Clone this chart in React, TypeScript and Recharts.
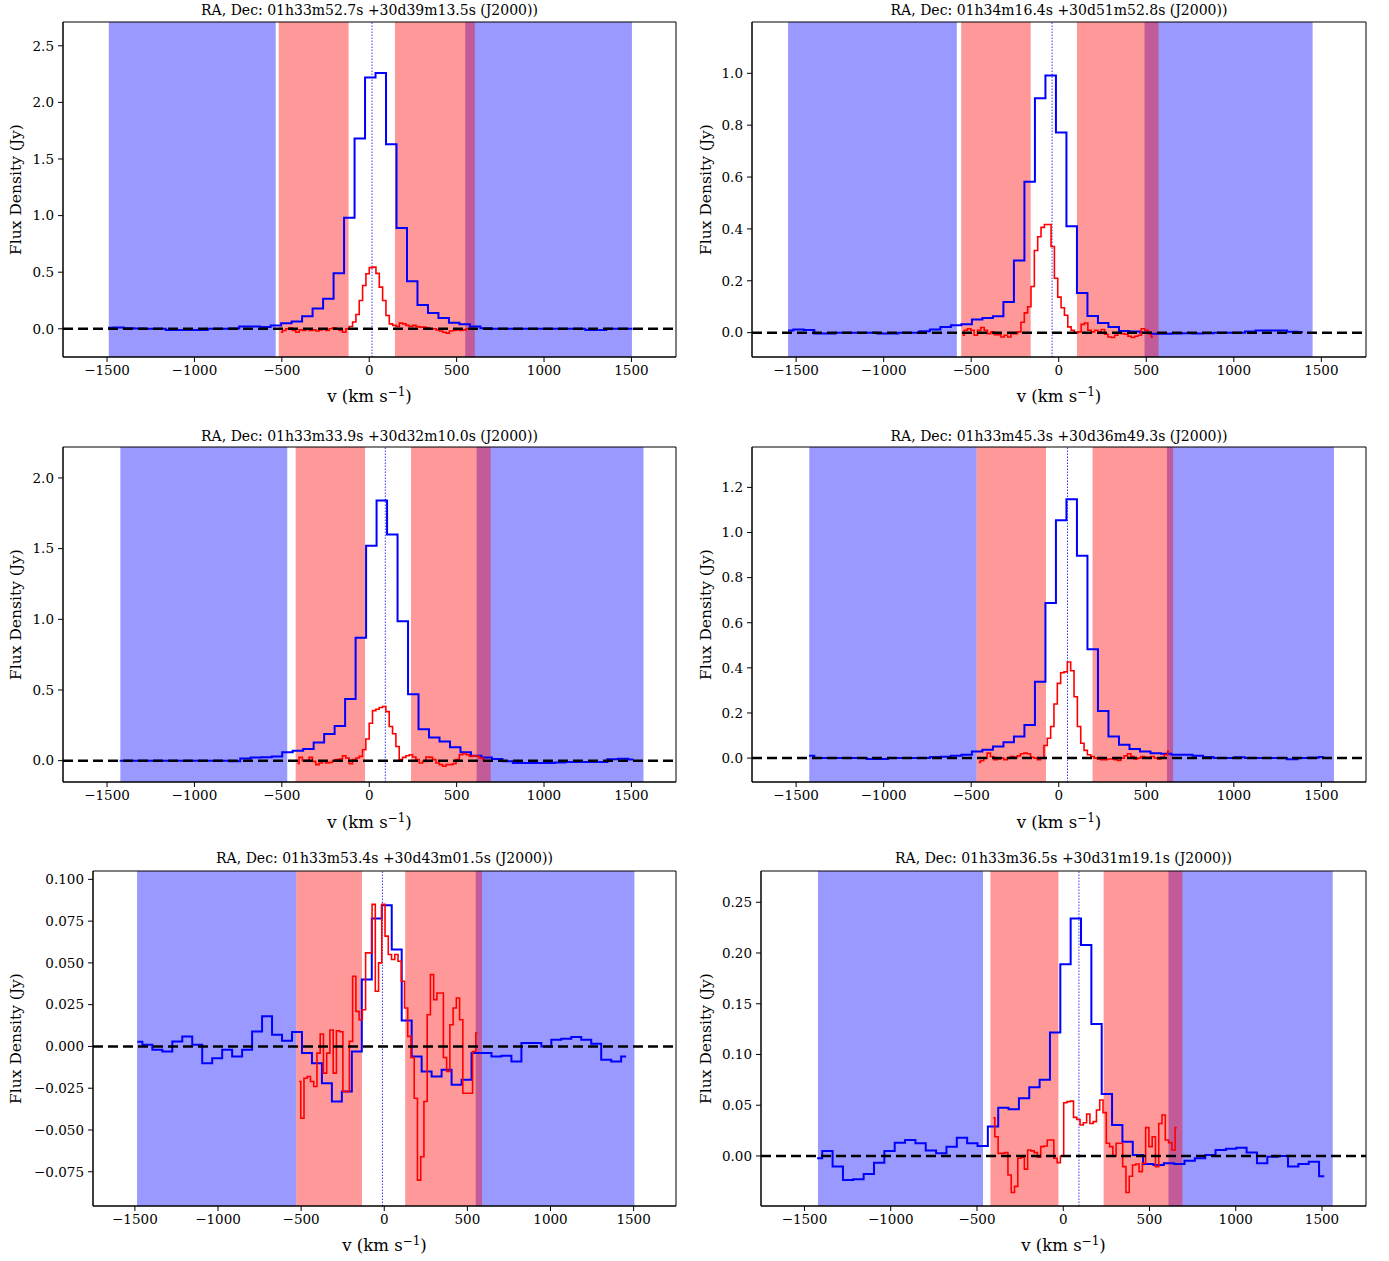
import React from 'react';
import { ComposedChart, Line, XAxis, YAxis, ReferenceArea, ReferenceLine } from 'recharts';

const FONT = '"DejaVu Serif", "Liberation Serif", serif';

// shared velocity axis (km/s)
const vDomain: [number, number] = [-1752, 1755];
const vTicks = [-1500, -1000, -500, 0, 500, 1000, 1500];
const blueStep = 60;

// ---- panel 1: 01h33m52.7s +30d39m13.5s
const p1Title = 'RA, Dec: 01h33m52.7s +30d39m13.5s (J2000))';
const p1BlueStart = -1494;
const p1Blue = [
  0.01, 0.012, 0.005, 0.003, 0, 0, -0.01, -0.01, -0.01, -0.01, 0, 0, 0.003, 0.02, 0.02, 0.015, 0.03,
  0.05, 0.065, 0.11, 0.18, 0.265, 0.49, 0.98, 1.68, 2.22, 2.26, 1.63, 0.89, 0.42, 0.21, 0.14, 0.095,
  0.053, 0.04, 0.02, 0.005, 0, 0, 0, 0, 0, 0, 0, 0, 0, -0.01, -0.01, 0, 0, 0,
];
const p1RedStart = -506;
const p1RedStep = 19.1;
const p1Red = [
  -0.03, -0.015, 0, 0.009, -0.015, -0.03, -0.009, -0.015, 0, -0.015, -0.009, -0.02, -0.009, 0, -0.015,
  0, 0.009, 0, -0.015, -0.03, 0, 0.02, 0.06, 0.127, 0.25, 0.383, 0.486, 0.54, 0.545, 0.49, 0.368, 0.25,
  0.118, 0.044, 0.03, 0.02, 0.05, 0.044, 0.03, 0.02, 0.03, 0.02, 0.015, 0.015, 0.009, 0, 0, -0.009,
  -0.02, -0.03, -0.038, -0.02, -0.015, -0.009, -0.015, -0.009, 0,
];
const p1BlueBands: [number, number][] = [[-1490, -535], [549, 1503]];
const p1RedBands: [number, number][] = [[-518, -118], [147, 604]];
const p1Centre = 16;
const p1YDomain: [number, number] = [-0.249, 2.71];
const p1YTicks = [0, 0.5, 1, 1.5, 2, 2.5];

// ---- panel 2: 01h34m16.4s +30d51m52.8s
const p2Title = 'RA, Dec: 01h34m16.4s +30d51m52.8s (J2000))';
const p2BlueStart = -1546;
const p2Blue = [
  0.008, 0.012, 0.01, -0.003, -0.003, 0, 0, 0, 0, -0.003, -0.003, 0, 0, 0.005, 0.012, 0.022, 0.028,
  0.032, 0.051, 0.056, 0.063, 0.118, 0.278, 0.582, 0.904, 0.992, 0.772, 0.41, 0.153, 0.064, 0.037,
  0.022, 0.006, 0.004, 0, -0.004, -0.004, -0.003, -0.002, -0.003, -0.002, 0, 0, 0, 0.004, 0.008, 0.008,
  0.008, 0.003, 0.002,
];
const p2RedStart = -550;
const p2RedStep = 19.1;
const p2Red = [
  -0.01, 0.009, 0.015, 0.009, -0.01, 0.009, 0.02, 0.009, -0.004, 0.003, -0.008, -0.008, -0.017, -0.01,
  -0.017, -0.004, -0.004, 0.003, 0.04, 0.076, 0.1, 0.178, 0.317, 0.37, 0.406, 0.417, 0.417, 0.332, 0.21,
  0.137, 0.096, 0.067, 0.022, 0.009, -0.001, 0.003, 0.032, 0.037, 0.009, 0.003, 0.009, 0.003, 0.012,
  -0.006, -0.017, -0.019, -0.01, -0.001, -0.004, -0.006, -0.014, -0.019, -0.014, -0.01, 0.015, 0.009,
  -0.004, -0.017,
];
const p2BlueBands: [number, number][] = [[-1546, -582], [490, 1450]];
const p2RedBands: [number, number][] = [[-557, -160], [104, 570]];
const p2Centre = -38;
const p2YDomain: [number, number] = [-0.094, 1.198];
const p2YTicks = [0, 0.2, 0.4, 0.6, 0.8, 1.0];

// ---- panel 3: 01h33m33.9s +30d32m10.0s
const p3Title = 'RA, Dec: 01h33m33.9s +30d32m10.0s (J2000))';
const p3BlueStart = -1428;
const p3Blue = [
  0, 0, 0, 0, 0, 0, 0, 0, 0, 0, 0, -0.005, 0.015, 0.022, 0.024, 0.03, 0.059, 0.07, 0.082, 0.129, 0.188,
  0.246, 0.437, 0.869, 1.52, 1.84, 1.6, 0.986, 0.47, 0.223, 0.164, 0.136, 0.094, 0.059, 0.035, 0.023,
  0.012, -0.005, -0.016, -0.016, -0.016, -0.016, -0.013, -0.01, -0.01, -0.01, -0.01, 0.01, 0.014, 0.008,
];
const p3RedStart = -411;
const p3RedStep = 19.1;
const p3Red = [
  -0.02, 0.023, 0, 0, 0.023, -0.005, -0.028, -0.017, -0.005, -0.017, -0.012, 0, 0.007, 0.012, 0.035,
  0.019, -0.021, 0.007, 0.019, 0.03, 0.077, 0.153, 0.265, 0.354, 0.364, 0.376, 0.383, 0.347, 0.242,
  0.19, 0.1, 0.007, 0.023, 0.035, 0.042, 0.026, 0.007, -0.017, -0.005, 0.026, 0.023, 0.007, -0.017,
  -0.028, -0.04, -0.028, -0.028, -0.021, 0.007, 0.042, 0.05, 0.042, 0.03, 0.035, 0.03, 0.019, 0.007,
];
const p3BlueBands: [number, number][] = [[-1424, -469], [614, 1569]];
const p3RedBands: [number, number][] = [[-421, -24], [239, 695]];
const p3Centre = 92;
const p3YDomain: [number, number] = [-0.151, 2.219];
const p3YTicks = [0, 0.5, 1, 1.5, 2];

// ---- panel 4: 01h33m45.3s +30d36m49.3s
const p4Title = 'RA, Dec: 01h33m45.3s +30d36m49.3s (J2000))';
const p4BlueStart = -1426;
const p4Blue = [
  0.01, 0, 0, 0, 0, 0, -0.004, -0.004, 0, 0, 0, 0, 0.005, 0.006, 0.01, 0.015, 0.029, 0.037, 0.051, 0.07,
  0.096, 0.147, 0.338, 0.687, 1.054, 1.147, 0.897, 0.482, 0.209, 0.096, 0.059, 0.04, 0.029, 0.022, 0.019,
  0.015, 0.015, 0.01, 0.005, 0, 0, 0.004, 0, 0, 0, 0, -0.005, 0, 0.002, 0.005,
];
const p4RedStart = -457;
const p4RedStep = 19.1;
const p4Red = [
  -0.019, -0.012, 0, 0.022, 0.007, -0.007, -0.004, 0, -0.007, 0, 0.007, 0.003, 0.01, 0.019, 0.022, 0.019,
  0.004, 0, -0.007, 0, 0.056, 0.088, 0.14, 0.24, 0.331, 0.378, 0.382, 0.426, 0.387, 0.272, 0.14, 0.066,
  0.034, 0.015, 0.007, 0, -0.004, -0.007, -0.007, -0.004, -0.004, -0.007, -0.01, 0, 0.01, 0.019, 0.007,
  -0.004, 0, 0.007, 0.004, 0.003, 0.007, 0, -0.004, 0.004, 0.015, 0.03,
];
const p4BlueBands: [number, number][] = [[-1425, -469], [618, 1572]];
const p4RedBands: [number, number][] = [[-469, -73], [193, 653]];
const p4Centre = 50;
const p4YDomain: [number, number] = [-0.106, 1.379];
const p4YTicks = [0, 0.2, 0.4, 0.6, 0.8, 1.0, 1.2];

// ---- panel 5: 01h33m53.4s +30d43m01.5s
const p5Title = 'RA, Dec: 01h33m53.4s +30d43m01.5s (J2000))';
const p5BlueStart = -1485;
const p5Blue = [
  0.0028, 0.001, -0.002, -0.003, 0.003, 0.006, 0.001, -0.01, -0.007, -0.002, -0.006, -0.002, 0.009,
  0.018, 0.007, 0.0034, 0.0086, -0.004, -0.01, -0.022, -0.033, -0.027, -0.003, 0.04, 0.0765, 0.0845,
  0.058, 0.0155, -0.006, -0.015, -0.018, -0.014, -0.023, -0.02, -0.004, -0.004, -0.006, -0.0055, -0.009,
  0.002, 0.002, 0, 0.004, 0.0046, 0.0056, 0.004, 0.0016, -0.008, -0.009, -0.006,
];
const p5RedStart = -512;
const p5RedStep = 19.5;
const p5Red = [
  -0.021, -0.043, -0.019, -0.018, -0.021, -0.024, -0.004, 0.0074, -0.016, -0.004, 0.0098, -0.016, 0.0094,
  0.0088, -0.027, -0.027, 0.003, 0.042, 0.021, 0.016, 0.022, 0.056, 0.056, 0.085, 0.033, 0.05, 0.085,
  0.066, 0.055, 0.052, 0.055, 0.051, 0.039, 0.023, 0.006, -0.0066, -0.031, -0.08, -0.066, -0.033, 0.019,
  0.043, 0.028, 0.032, 0.032, -0.0066, -0.015, 0.013, 0.023, 0.029, 0.016, -0.028, -0.028, -0.028,
  -0.003, 0.008,
];
const p5BlueBands: [number, number][] = [[-1487, -529], [550, 1505]];
const p5RedBands: [number, number][] = [[-529, -134], [126, 588]];
const p5Centre = -11;
const p5YDomain: [number, number] = [-0.0955, 0.105];
const p5YTicks = [-0.075, -0.05, -0.025, 0, 0.025, 0.05, 0.075, 0.1];

// ---- panel 6: 01h33m36.5s +30d31m19.1s
const p6Title = 'RA, Dec: 01h33m36.5s +30d31m19.1s (J2000))';
const p6BlueStart = -1427;
const p6Blue = [
  -0.0023, 0.005, -0.0105, -0.0237, -0.023, -0.0177, -0.0066, 0.005, 0.013, 0.0158, 0.0125, 0.0053,
  0.0026, 0.0092, 0.018, 0.0125, 0.0099, 0.029, 0.0476, 0.046, 0.0568, 0.0677, 0.075, 0.1216, 0.189,
  0.234, 0.208, 0.13, 0.061, 0.0306, 0.014, 0.001, -0.008, -0.009, -0.0072, -0.008, -0.0046, -0.0023,
  0.001, 0.006, 0.007, 0.0082, 0.0033, -0.0072, -0.0007, 0, -0.0105, -0.008, -0.0056, -0.02,
];
const p6RedStart = -406;
const p6RedStep = 19;
const p6Red = [
  0.0377, 0.019, 0.0026, 0.0026, 0.0033, -0.0187, -0.036, -0.03, -0.0023, -0.0013, -0.013, 0.0059, 0.005,
  0.0033, -0.0013, 0.0092, 0.0098, 0.0157, 0.0157, -0.0023, -0.0066, 0, 0.0525, 0.0535, 0.054, 0.038,
  0.036, 0.0305, 0.0328, 0.0413, 0.032, 0.0338, 0.0453, 0.0551, 0.0427, 0.0125, 0.0092, 0, 0.0125,
  0.0125, -0.0105, -0.036, -0.02, -0.0089, -0.0079, -0.0154, -0.0072, 0.0279, 0.0092, 0.019, -0.0105,
  0.032, 0.0404, 0.0157, 0.0131, 0.0059, 0.0279,
];
const p6BlueBands: [number, number][] = [[-1422, -465], [610, 1562]];
const p6RedBands: [number, number][] = [[-422, -28], [234, 691]];
const p6Centre = 91;
const p6YDomain: [number, number] = [-0.0493, 0.2808];
const p6YTicks = [0, 0.05, 0.1, 0.15, 0.2, 0.25];

type Box = { x0: number; x1: number; y0: number; y1: number };
type Cell = { left: number; top: number; width: number; height: number };

interface PanelProps {
  title: string;
  blue: { v: number; f: number }[];
  red: { v: number; f: number }[];
  blueBands: [number, number][];
  redBands: [number, number][];
  centre: number;
  yDomain: [number, number];
  yTicks: number[];
  yDigits: number;
  cell: Cell;
  plot: Box;
  yLabelX: number;
  titleY: number;
  xLabelY: number;
}

const channels = (start: number, step: number, flux: number[]) =>
  flux.map((f, i) => ({ v: start + i * step, f }));

const minus = (s: string) => s.replace('-', '\u2212');

const X_AXIS_H = 40;

const SpectrumPanel = (p: PanelProps) => {
  const { cell, plot } = p;
  const margin = {
    top: plot.y0 - cell.top,
    right: cell.left + cell.width - plot.x1,
    bottom: cell.top + cell.height - plot.y1 - X_AXIS_H,
    left: 0,
  };
  const midY = (plot.y0 + plot.y1) / 2 - cell.top;
  const midX = (plot.x0 + plot.x1) / 2 - cell.left;
  const tickStyle = { fill: '#000', fontSize: 13.5, fontFamily: FONT };

  return (
    <div style={{ position: 'absolute', left: cell.left, top: cell.top, width: cell.width, height: cell.height }}>
      <div
        style={{
          position: 'absolute',
          left: plot.x0 - cell.left - 40,
          width: plot.x1 - plot.x0 + 80,
          top: p.titleY - cell.top - 8,
          lineHeight: '16px',
          textAlign: 'center',
          fontFamily: FONT,
          fontSize: 14,
          color: '#000',
          whiteSpace: 'nowrap',
        }}
      >
        {p.title}
      </div>
      <ComposedChart width={cell.width} height={cell.height} margin={margin}>
        <XAxis
          type="number"
          dataKey="v"
          domain={vDomain}
          ticks={vTicks}
          allowDataOverflow
          height={X_AXIS_H}
          stroke="#000"
          tickSize={5}
          tickMargin={3}
          tick={tickStyle}
          tickFormatter={(v: number) => minus(String(v))}
          label={() => (
            <text
              x={midX}
              y={p.xLabelY - cell.top + 6}
              textAnchor="middle"
              fontFamily={FONT}
              fontSize={16.5}
              fill="#000"
            >
              v (km s
              <tspan dy={-6} fontSize={12}>{'\u22121'}</tspan>
              <tspan dy={6}>)</tspan>
            </text>
          )}
        />
        <YAxis
          type="number"
          domain={p.yDomain}
          ticks={p.yTicks}
          allowDataOverflow
          width={plot.x0 - cell.left}
          stroke="#000"
          tickSize={5}
          tickMargin={4}
          tick={tickStyle}
          tickFormatter={(v: number) => minus(v.toFixed(p.yDigits))}
          label={() => (
            <text
              x={p.yLabelX - cell.left}
              y={midY}
              transform={`rotate(-90 ${p.yLabelX - cell.left} ${midY})`}
              textAnchor="middle"
              dominantBaseline="central"
              fontFamily={FONT}
              fontSize={15.5}
              fill="#000"
            >
              Flux Density (Jy)
            </text>
          )}
        />
        {p.blueBands.map(([a, b], i) => (
          <ReferenceArea key={`b${i}`} x1={a} x2={b} fill="#0000ff" fillOpacity={0.4} stroke="none" zIndex={100} />
        ))}
        {p.redBands.map(([a, b], i) => (
          <ReferenceArea key={`r${i}`} x1={a} x2={b} fill="#ff0000" fillOpacity={0.4} stroke="none" zIndex={110} />
        ))}
        <ReferenceLine x={p.centre} stroke="#0000ff" strokeWidth={0.8} strokeDasharray="1.5 1.5" zIndex={300} />
        <Line
          data={p.blue}
          dataKey="f"
          type="step"
          stroke="#0000ff"
          strokeWidth={2}
          dot={false}
          activeDot={false}
          isAnimationActive={false}
          zIndex={400}
        />
        <Line
          data={p.red}
          dataKey="f"
          type="step"
          stroke="#ff0000"
          strokeWidth={1.6}
          dot={false}
          activeDot={false}
          isAnimationActive={false}
          zIndex={410}
        />
        <ReferenceLine y={0} stroke="#000" strokeWidth={2.5} strokeDasharray="10 5" zIndex={450} />
        <ReferenceArea
          x1={vDomain[0]}
          x2={vDomain[1]}
          y1={p.yDomain[0]}
          y2={p.yDomain[1]}
          fill="none"
          stroke="#000"
          strokeWidth={1}
          ifOverflow="visible"
          zIndex={600}
        />
      </ComposedChart>
    </div>
  );
};

const App = () => {
  const left = { width: 694 };
  const right = { left: 694, width: 695 };
  return (
    <div style={{ position: 'absolute', left: 0, top: 0, width: 1389, height: 1261, background: '#fff' }}>
      <SpectrumPanel
        title={p1Title}
        blue={channels(p1BlueStart, blueStep, p1Blue)}
        red={channels(p1RedStart, p1RedStep, p1Red)}
        blueBands={p1BlueBands}
        redBands={p1RedBands}
        centre={p1Centre}
        yDomain={p1YDomain}
        yTicks={p1YTicks}
        yDigits={1}
        cell={{ left: 0, top: 0, width: left.width, height: 420 }}
        plot={{ x0: 63, x1: 676, y0: 22, y1: 357 }}
        yLabelX={16}
        titleY={10}
        xLabelY={396}
      />
      <SpectrumPanel
        title={p2Title}
        blue={channels(p2BlueStart, blueStep, p2Blue)}
        red={channels(p2RedStart, p2RedStep, p2Red)}
        blueBands={p2BlueBands}
        redBands={p2RedBands}
        centre={p2Centre}
        yDomain={p2YDomain}
        yTicks={p2YTicks}
        yDigits={1}
        cell={{ left: right.left, top: 0, width: right.width, height: 420 }}
        plot={{ x0: 752, x1: 1366, y0: 22, y1: 357 }}
        yLabelX={706}
        titleY={10}
        xLabelY={396}
      />
      <SpectrumPanel
        title={p3Title}
        blue={channels(p3BlueStart, blueStep, p3Blue)}
        red={channels(p3RedStart, p3RedStep, p3Red)}
        blueBands={p3BlueBands}
        redBands={p3RedBands}
        centre={p3Centre}
        yDomain={p3YDomain}
        yTicks={p3YTicks}
        yDigits={1}
        cell={{ left: 0, top: 425, width: left.width, height: 425 }}
        plot={{ x0: 63, x1: 676, y0: 447, y1: 782 }}
        yLabelX={16}
        titleY={436}
        xLabelY={822}
      />
      <SpectrumPanel
        title={p4Title}
        blue={channels(p4BlueStart, blueStep, p4Blue)}
        red={channels(p4RedStart, p4RedStep, p4Red)}
        blueBands={p4BlueBands}
        redBands={p4RedBands}
        centre={p4Centre}
        yDomain={p4YDomain}
        yTicks={p4YTicks}
        yDigits={1}
        cell={{ left: right.left, top: 425, width: right.width, height: 425 }}
        plot={{ x0: 752, x1: 1366, y0: 447, y1: 782 }}
        yLabelX={706}
        titleY={436}
        xLabelY={822}
      />
      <SpectrumPanel
        title={p5Title}
        blue={channels(p5BlueStart, blueStep, p5Blue)}
        red={channels(p5RedStart, p5RedStep, p5Red)}
        blueBands={p5BlueBands}
        redBands={p5RedBands}
        centre={p5Centre}
        yDomain={p5YDomain}
        yTicks={p5YTicks}
        yDigits={3}
        cell={{ left: 0, top: 850, width: left.width, height: 411 }}
        plot={{ x0: 93, x1: 676, y0: 871, y1: 1206 }}
        yLabelX={16}
        titleY={858}
        xLabelY={1245}
      />
      <SpectrumPanel
        title={p6Title}
        blue={channels(p6BlueStart, blueStep, p6Blue)}
        red={channels(p6RedStart, p6RedStep, p6Red)}
        blueBands={p6BlueBands}
        redBands={p6RedBands}
        centre={p6Centre}
        yDomain={p6YDomain}
        yTicks={p6YTicks}
        yDigits={2}
        cell={{ left: right.left, top: 850, width: right.width, height: 411 }}
        plot={{ x0: 761, x1: 1366, y0: 871, y1: 1206 }}
        yLabelX={706}
        titleY={858}
        xLabelY={1245}
      />
    </div>
  );
};

export default App;
